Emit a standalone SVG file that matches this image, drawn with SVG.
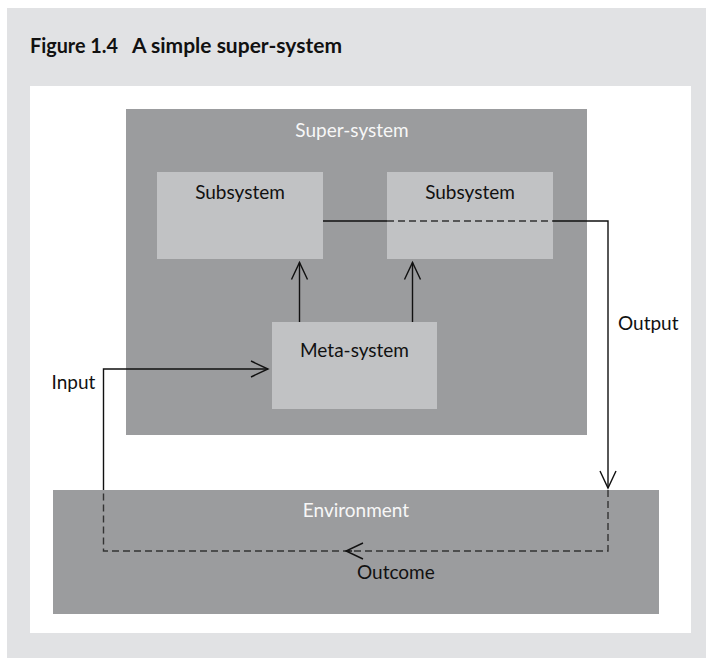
<svg xmlns="http://www.w3.org/2000/svg" width="706" height="658" viewBox="0 0 706 658">
  <style>
    .bg { fill: #e1e2e4; }
    .panel { fill: #ffffff; }
    .dark { fill: #9b9c9e; }
    .light { fill: #c1c2c4; }
    .lbl { font-family: Lato, "Open Sans", "Liberation Sans", sans-serif; font-size: 19px; fill: #111111; }
    .wlbl { font-family: Lato, "Open Sans", "Liberation Sans", sans-serif; font-size: 19px; fill: #f7f7f7; }
    .title { font-family: Lato, "Open Sans", "Liberation Sans", sans-serif; font-size: 21px; font-weight: bold; fill: #111111; }
    .line { fill: none; stroke: #111111; stroke-width: 1.4; }
    .dash { fill: none; stroke: #333333; stroke-width: 1.4; stroke-dasharray: 7 4; }
  </style>
  <defs>
    <marker id="open" markerUnits="userSpaceOnUse" markerWidth="20" markerHeight="20" refX="17" refY="8" orient="auto" overflow="visible">
      <path d="M0,0 L17,8 L0,16" fill="none" stroke="#111111" stroke-width="1.4"/>
    </marker>
  </defs>

  <rect class="bg" x="7" y="8" width="699" height="650"/>
  <text class="title" y="53"><tspan x="30" textLength="88" lengthAdjust="spacingAndGlyphs">Figure 1.4</tspan><tspan x="132" textLength="210" lengthAdjust="spacingAndGlyphs">A simple super-system</tspan></text>
  <rect class="panel" x="30" y="86" width="661" height="547"/>

  <g id="super-system">
    <rect class="dark" x="126" y="109" width="461" height="326"/>
    <text class="wlbl" x="352" y="137" text-anchor="middle">Super-system</text>
  </g>
  <g id="subsystem-left">
    <rect class="light" x="157" y="172" width="166" height="87"/>
    <text class="lbl" x="240" y="199" text-anchor="middle">Subsystem</text>
  </g>
  <g id="subsystem-right">
    <rect class="light" x="387" y="172" width="166" height="87"/>
    <text class="lbl" x="470" y="199" text-anchor="middle">Subsystem</text>
  </g>
  <g id="meta-system">
    <rect class="light" x="272" y="322" width="165" height="87"/>
    <text class="lbl" x="354.5" y="357" text-anchor="middle">Meta-system</text>
  </g>
  <g id="environment">
    <rect class="dark" x="53" y="490" width="606" height="124"/>
    <text class="wlbl" x="356" y="517" text-anchor="middle">Environment</text>
  </g>

  <g id="connectors">
    <path class="line" d="M299.5,322 V262.5" marker-end="url(#open)"/>
    <path class="line" d="M412.5,322 V262.5" marker-end="url(#open)"/>
    <path class="line" d="M323,221 H387"/>
    <path class="dash" d="M387,221 H553"/>
    <path class="line" d="M553,221 H608 V488" marker-end="url(#open)"/>
    <path class="dash" d="M608,490 V551 H103.5 V490"/>
    <path class="line" d="M352,551 H346" marker-end="url(#open)"/>
    <path class="line" d="M103.5,490 V369 H268" marker-end="url(#open)"/>
    <text class="lbl" x="51.5" y="389">Input</text>
    <text class="lbl" x="618" y="329.5">Output</text>
    <text class="lbl" x="357" y="579">Outcome</text>
  </g>
</svg>
